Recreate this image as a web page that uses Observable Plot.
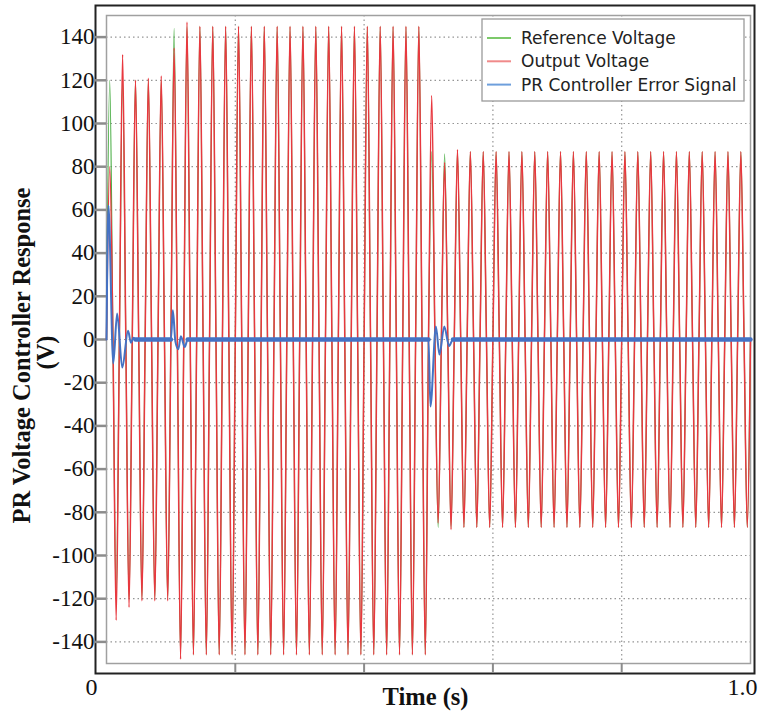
<!DOCTYPE html>
<html><head><meta charset="utf-8">
<script src="https://cdn.jsdelivr.net/npm/d3@7"></script>
<script src="https://cdn.jsdelivr.net/npm/@observablehq/plot@0.6"></script>
<style>
html,body{margin:0;padding:0;background:#fff;}
#chart svg{display:block;}
</style></head><body><div id="chart"></div>
<script>
// ---- data ----
const seriesNames = ["Reference Voltage", "Output Voltage", "PR Controller Error Signal"];
const seriesColors = ["#4fb04a", "#e8383f", "#4472c4"];
const legendColors = ["#7cc96a", "#f08a8a", "#6e9fdc"];
const halfCycle = 0.01; // 50 Hz sine: one signed peak per 10 ms half-cycle

// signed peak value of each half-cycle (V), t = 0.005, 0.015, ...
const refPeaks = [
  120,-120,120,-120,120,-120,120,-120,120,-120,
  144,-146,145,-146,145,-146,145,-146,145,-146,
  145,-146,145,-146,145,-146,145,-146,145,-146,
  145,-146,145,-146,145,-146,145,-146,145,-146,
  145,-146,145,-146,145,-146,145,-146,145,-146,
  87,-87,86,-87,87,-87,87,-87,87,-87,
  87,-87,87,-87,87,-87,87,-87,87,-87,
  87,-87,87,-87,87,-87,87,-87,87,-87,
  87,-87,87,-87,87,-87,87,-87,87,-87,
  87,-87,87,-87,87,-87,87,-87,87,-87
];
const outPeaks = [
  80,-130,132,-124,120,-121,121,-121,122,-121,
  135,-148,147,-146,145,-146,145,-146,145,-146,
  145,-146,145,-146,145,-146,145,-146,145,-146,
  145,-146,145,-146,145,-146,145,-146,145,-146,
  145,-146,145,-146,145,-146,145,-146,145,-146,
  113,-85,82,-88,88,-87,87,-87,87,-87,
  87,-87,87,-87,87,-87,87,-87,87,-87,
  87,-87,87,-87,87,-87,87,-87,87,-87,
  87,-87,87,-87,87,-87,87,-87,87,-87,
  87,-87,87,-87,87,-87,87,-87,87,-87
];
// PR controller error signal (transients), s and V
const errTimes  = [0, 0.003, 0.0105, 0.0165, 0.0245, 0.0335, 0.038, 0.042, 0.045, 0.1, 0.103, 0.107, 0.1115, 0.1155, 0.1215, 0.126, 0.5, 0.503, 0.5115, 0.517, 0.5245, 0.532, 0.538, 1.0];
const errValues = [0, 62, -11, 12, -13, 4, -1.5, 0.8, 0, 0, 13.5, -1, -4.5, 1.5, -3.5, 0, 0, -31, 6, -7, 6, -3, 0, 0];
// intervals where the error sits in its steady (noisy) band around 0
const steadyStarts = [0.045, 0.126, 0.538];
const steadyEnds   = [0.1, 0.5, 1.0];

const yTicks = [-140,-120,-100,-80,-60,-40,-20,0,20,40,60,80,100,120,140];
const xGridTicks = [0.2, 0.4, 0.6, 0.8];
const xTickLabels = ["0", "1.0"];
const xTitle = "Time (s)";
const yTitle = ["PR Voltage Controller Response", "(V)"];

// ---- build tables ----
function wave(peaks) {
  const pts = [];
  peaks.forEach((p, k) => {
    pts.push({t: k * halfCycle, v: 0});
    pts.push({t: k * halfCycle + halfCycle / 2, v: p});
  });
  pts.push({t: peaks.length * halfCycle, v: 0});
  return pts;
}
const refPts = wave(refPeaks);
const outPts = wave(outPeaks);
const errPts = errTimes.map((t, i) => ({t, v: errValues[i]}));
const bandPts = steadyStarts.flatMap((s, i) => [{t: s, v: 0, b: i}, {t: steadyEnds[i], v: 0, b: i}]);

const serif = "'Liberation Serif', 'Times New Roman', serif";

const plot = Plot.plot({
  width: 758, height: 712,
  marginLeft: 106, marginRight: 8, marginTop: 15, marginBottom: 49,
  x: {domain: [0, 1]},
  y: {domain: [-150, 150]},
  style: {fontFamily: serif, fontSize: "20px", color: "#111", background: "#fff"},
  marks: [
    Plot.gridY(yTicks, {stroke: "#8a8a8a", strokeOpacity: 0.9, strokeDasharray: "1.5,3", strokeWidth: 1.2}),
    Plot.gridX(xGridTicks, {stroke: "#8a8a8a", strokeOpacity: 0.9, strokeDasharray: "1.5,3", strokeWidth: 1.2}),
    Plot.frame({stroke: "#a0a0a0", strokeWidth: 1.5}),
    Plot.frame({stroke: "#222", strokeWidth: 2, insetLeft: -11, insetTop: -10, insetRight: -4, insetBottom: -10}),
    Plot.axisY(yTicks, {tickSize: 11, tickPadding: 1, tickFormat: d => String(d), stroke: "#8c8c8c", strokeWidth: 2.5, fill: "#111", fontSize: 23, label: null}),
    Plot.axisX(xGridTicks, {tickSize: 10, tickFormat: () => "", stroke: "#8c8c8c", strokeWidth: 2, label: null}),
    Plot.line(refPts, {x: "t", y: "v", curve: "monotone-x", stroke: seriesColors[0], strokeWidth: 1.2}),
    Plot.line(outPts, {x: "t", y: "v", curve: "monotone-x", stroke: seriesColors[1], strokeWidth: 1.5}),
    Plot.line(bandPts, {x: "t", y: "v", z: "b", stroke: seriesColors[2], strokeWidth: 4.5}),
    Plot.line(errPts, {x: "t", y: "v", curve: "monotone-x", stroke: seriesColors[2], strokeWidth: 2}),
    Plot.text([xTickLabels[0]], {x: 0, y: -150, text: d => d, dx: -15, dy: 24, lineAnchor: "middle", textAnchor: "middle", fontSize: 24}),
    Plot.text([xTickLabels[1]], {x: 1, y: -150, text: d => d, dx: -8, dy: 24, lineAnchor: "middle", textAnchor: "middle", fontSize: 24}),
    Plot.text([xTitle], {frameAnchor: "bottom", dx: -3, dy: 34, lineAnchor: "middle", textAnchor: "middle", fontWeight: "bold", fontSize: 24.5}),
    Plot.text([yTitle[0]], {frameAnchor: "left", dx: -84, dy: 16, rotate: -90, lineAnchor: "middle", textAnchor: "middle", fontWeight: "bold", fontSize: 24.5}),
    Plot.text([yTitle[1]], {frameAnchor: "left", dx: -60, dy: 13, rotate: -90, lineAnchor: "middle", textAnchor: "middle", fontWeight: "bold", fontSize: 24.5})
  ]
});

// ---- legend (inside the plot, top right) ----
const svg = d3.select(plot);
const lg = svg.append("g").attr("font-family", "'DejaVu Sans', Verdana, sans-serif").attr("font-size", 17).attr("text-anchor", "start");
lg.append("rect").attr("x", 482).attr("y", 19).attr("width", 262).attr("height", 82)
  .attr("fill", "#fff").attr("stroke", "#9a9a9a").attr("stroke-width", 1.3);
seriesNames.forEach((name, i) => {
  const y = 38 + i * 23.3;
  lg.append("line").attr("x1", 487).attr("x2", 511).attr("y1", y).attr("y2", y)
    .attr("stroke", legendColors[i]).attr("stroke-width", 2);
  lg.append("text").attr("x", 521).attr("y", y).attr("dy", "0.36em").attr("text-anchor", "start").attr("fill", "#222").text(name);
});

document.getElementById("chart").append(plot);
</script>
</body></html>
